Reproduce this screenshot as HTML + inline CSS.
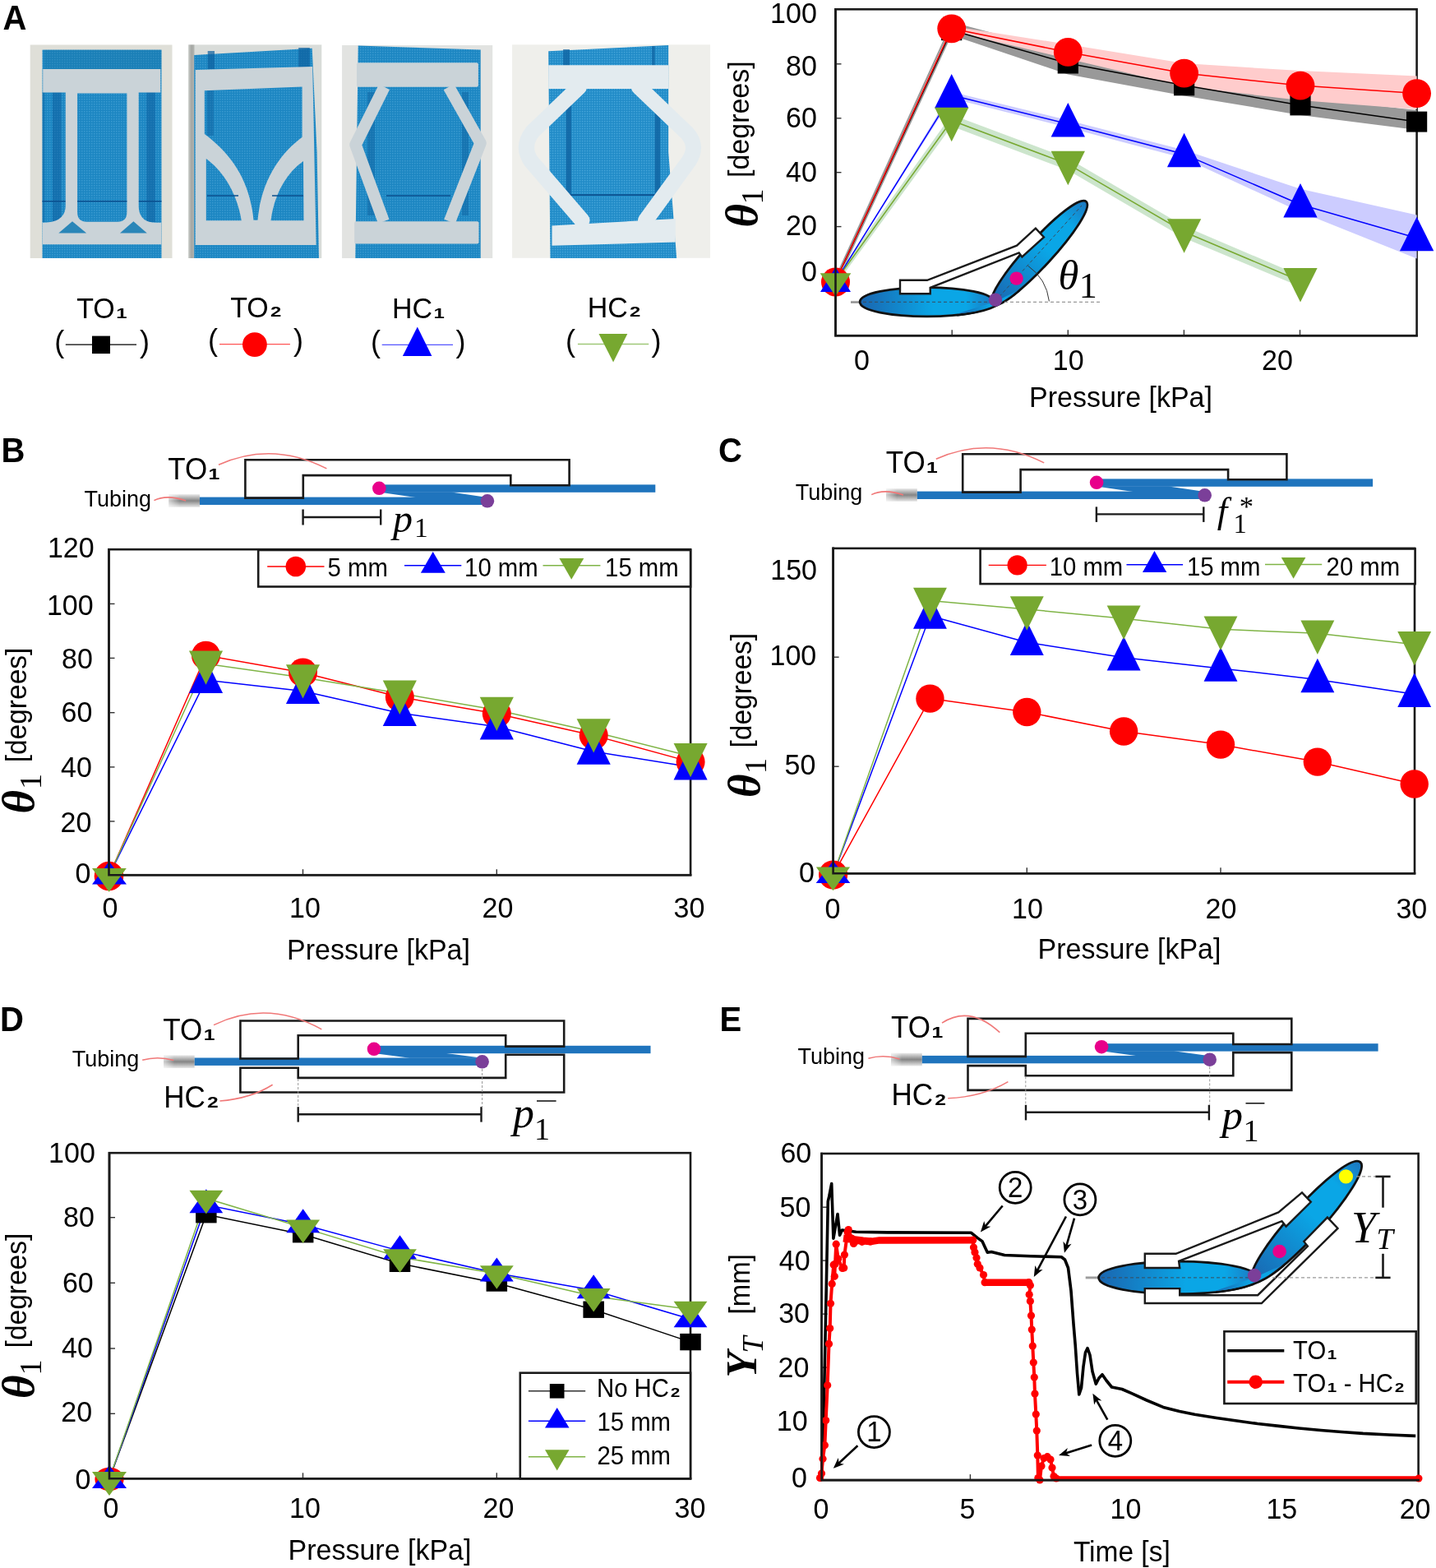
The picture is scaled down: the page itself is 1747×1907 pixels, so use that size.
<!DOCTYPE html>
<html><head><meta charset="utf-8"><title>Figure</title>
<style>html,body{margin:0;padding:0;background:#fff;}svg{display:block;}</style>
</head><body>
<svg xmlns="http://www.w3.org/2000/svg" width="1747" height="1907" viewBox="0 0 1747 1907">
<defs>
<linearGradient id="tubeg" x1="0" y1="0" x2="0" y2="1"><stop offset="0" stop-color="#e8e8e8"/><stop offset="0.5" stop-color="#858585"/><stop offset="1" stop-color="#e8e8e8"/></linearGradient>
<linearGradient id="tubeh" x1="0" y1="0" x2="1" y2="0"><stop offset="0" stop-color="#fff" stop-opacity="0.6"/><stop offset="1" stop-color="#fff" stop-opacity="0"/></linearGradient>
<linearGradient id="ellg" x1="0" y1="0" x2="1" y2="0"><stop offset="0" stop-color="#1a66b0"/><stop offset="0.55" stop-color="#0aa6e6"/><stop offset="0.8" stop-color="#0aa6e6"/><stop offset="1" stop-color="#1c78c0"/></linearGradient>
<linearGradient id="fabric" x1="0" y1="0" x2="1" y2="0"><stop offset="0" stop-color="#1576b5"/><stop offset="0.5" stop-color="#1e8cc6"/><stop offset="1" stop-color="#1576b5"/></linearGradient>
<pattern id="weave" width="3" height="3" patternUnits="userSpaceOnUse"><rect width="3" height="3" fill="#1c86c2"/><rect width="1.5" height="1.5" fill="#3a9ad0"/></pattern>
</defs>
<rect width="1747" height="1907" fill="#ffffff"/>
<text x="0" y="0" transform="translate(3.5,35.8) scale(1,1.04)" font-size="40" text-anchor="start" font-weight="bold" font-style="normal" font-family="'Liberation Sans', Arial, sans-serif" fill="#000" >A</text>
<text x="0" y="0" transform="translate(1.5,561.8) scale(1,1.04)" font-size="40" text-anchor="start" font-weight="bold" font-style="normal" font-family="'Liberation Sans', Arial, sans-serif" fill="#000" >B</text>
<text x="0" y="0" transform="translate(874,561.8) scale(1,1.04)" font-size="40" text-anchor="start" font-weight="bold" font-style="normal" font-family="'Liberation Sans', Arial, sans-serif" fill="#000" >C</text>
<text x="0" y="0" transform="translate(0,1253.6) scale(1,1.04)" font-size="40" text-anchor="start" font-weight="bold" font-style="normal" font-family="'Liberation Sans', Arial, sans-serif" fill="#000" >D</text>
<text x="0" y="0" transform="translate(875.5,1253.6) scale(1,1.04)" font-size="40" text-anchor="start" font-weight="bold" font-style="normal" font-family="'Liberation Sans', Arial, sans-serif" fill="#000" >E</text>
<defs>
<pattern id="weave" width="3" height="3" patternUnits="userSpaceOnUse"><rect width="3" height="3" fill="#1b7fbb"/><rect x="0" y="0" width="1.2" height="1.2" fill="#3d98cc"/><rect x="1.5" y="1.5" width="1.2" height="1.2" fill="#1873ad"/></pattern>
<pattern id="weave4" width="3" height="3" patternUnits="userSpaceOnUse"><rect width="3" height="3" fill="#2590cc"/><rect x="0" y="0" width="1.2" height="1.2" fill="#4aa6d8"/><rect x="1.5" y="1.5" width="1.2" height="1.2" fill="#1f86c0"/></pattern>
<linearGradient id="shadowL" x1="0" y1="0" x2="1" y2="0"><stop offset="0" stop-color="#b8bab6"/><stop offset="0.5" stop-color="#80827e"/><stop offset="1" stop-color="#9a9c98"/></linearGradient>
</defs>
<g>
<rect x="36.7" y="54.5" width="172.8" height="259.5" fill="#dfdfd8" stroke="none" stroke-width="0" />
<rect x="51.5" y="60.6" width="145" height="253.4" fill="url(#weave)" stroke="none" stroke-width="0" />
<rect x="53.8" y="60.6" width="142.5" height="23.5" fill="#17709f" stroke="none" stroke-width="0" opacity="0.3"/>
<rect x="63.9" y="112" width="10.6" height="158" fill="#0d5f9e" stroke="none" stroke-width="0" opacity="0.55"/>
<rect x="178.3" y="112" width="10.5" height="158" fill="#0d5f9e" stroke="none" stroke-width="0" opacity="0.55"/>
<rect x="51.5" y="112" width="3" height="158" fill="#0d5f9e" stroke="none" stroke-width="0" opacity="0.4"/>
<line x1="51.5" y1="244.8" x2="196.5" y2="244.8" stroke="#0b4f8e" stroke-width="1.6" />
<path d="M52.2,83.9 L195.2,83.9 L195.2,112.5 L168.7,112.5 L168.7,250 Q168.7,270.8 190,270.8 L196.3,270.8 L196.3,297.3 L51.7,297.3 L51.7,270.8 Q79.8,270.8 79.8,250 L79.8,112.5 L52.2,112.5 Z" fill="#cad3d8"/>
<path d="M94.1,113.5 L154.4,113.5 L154.4,258 Q154.4,269.7 143,269.7 L105.5,269.7 Q94.1,269.7 94.1,258 Z" fill="url(#weave)"/>
<line x1="94.1" y1="244.8" x2="154.4" y2="244.8" stroke="#0b4f8e" stroke-width="1.6" />
<polygon points="71.3,283.5 88,269.2 105.2,283.5" fill="#2a86b8" />
<polygon points="146,283.5 162.4,269.2 178.8,283.5" fill="#2a86b8" />
</g>
<g>
<rect x="228.9" y="54.4" width="162.4" height="259.6" fill="#d9dcd9" stroke="none" stroke-width="0" />
<rect x="229.5" y="54.4" width="7" height="259.6" fill="url(#shadowL)" stroke="none" stroke-width="0" opacity="0.6"/>
<path d="M236.2,67 L379.7,58.8 L385.6,185 L388,314 L236.2,314 Z" fill="url(#weave)"/>
<rect x="252.7" y="62" width="8.3" height="22" fill="#0d5f9e" stroke="none" stroke-width="0" opacity="0.7"/>
<rect x="363.2" y="58" width="13.6" height="24" fill="#0d5f9e" stroke="none" stroke-width="0" opacity="0.7"/>
<path d="M237.7,85 L380.2,81.1 L384.6,298 L237.7,298.1 Z" fill="#cad3d8"/>
<path d="M248.8,110.3 L367.6,105.5 L367.6,166.8 C342,186 318,218 313.5,267.7 L308.5,267.7 C304,218 280,186 248.8,162.9 Z" fill="url(#weave)"/>
<rect x="252" y="110" width="8" height="55" fill="#0d5f9e" stroke="none" stroke-width="0" opacity="0.45"/>
<path d="M250.8,193 C274,210 289,238 293.7,268.3 L250.8,268.3 Z" fill="url(#weave)"/>
<path d="M369,196 C346,212 333,240 329.5,268.3 L369.5,268.3 Z" fill="url(#weave)"/>
<line x1="252" y1="238" x2="290" y2="238" stroke="#0b4f8e" stroke-width="1.4" />
<line x1="331" y1="238" x2="369" y2="238" stroke="#0b4f8e" stroke-width="1.4" />
</g>
<g>
<rect x="416.1" y="55" width="183.1" height="259" fill="#e2e3e1" stroke="none" stroke-width="0" />
<path d="M435.7,55.6 L584.7,60.6 L584.7,314 L432.3,314 Z" fill="url(#weave)"/>
<rect x="447" y="112" width="9" height="150" fill="#0d5f9e" stroke="none" stroke-width="0" opacity="0.45"/>
<rect x="562" y="112" width="8" height="150" fill="#0d5f9e" stroke="none" stroke-width="0" opacity="0.45"/>
<line x1="470" y1="238" x2="548" y2="238" stroke="#0b4f8e" stroke-width="1.4" />
<path d="M467.5,105.8 L432.5,176 L466.7,269.3 M546,105.8 L584.5,174 L547,269.3" fill="none" stroke="#cad3d8" stroke-width="14.5" stroke-linejoin="round"/>
<rect x="434" y="76.2" width="147.9" height="29.6" fill="#cad3d8" stroke="none" stroke-width="0" rx="2"/>
<rect x="431.2" y="269.3" width="151.3" height="27.3" fill="#cad3d8" stroke="none" stroke-width="0" rx="2"/>
</g>
<g>
<rect x="623.1" y="54.3" width="240.9" height="259.5" fill="#efefeb" stroke="none" stroke-width="0" />
<path d="M667.2,62.2 L813.2,55 L813.2,185 L823.2,314 L669.4,314 Z" fill="url(#weave4)"/>
<rect x="685.1" y="60" width="7.9" height="22" fill="#0d5f9e" stroke="none" stroke-width="0" opacity="0.7"/>
<rect x="793.2" y="56" width="3.5" height="24" fill="#0d5f9e" stroke="none" stroke-width="0" opacity="0.7"/>
<rect x="688.7" y="125" width="6.4" height="112" fill="#0d5f9e" stroke="none" stroke-width="0" opacity="0.75"/>
<rect x="796.7" y="125" width="6.5" height="112" fill="#0d5f9e" stroke="none" stroke-width="0" opacity="0.75"/>
<line x1="690" y1="237.2" x2="803" y2="237.2" stroke="#0b4f8e" stroke-width="1.8" />
<path d="M704.4,106 L648,160 Q634,178 646,196 L708,268 M777.4,106 L836,162 Q850,178 838,196 L785.5,268" fill="none" stroke="#e3ebef" stroke-width="19" stroke-linejoin="round" stroke-linecap="round"/>
<path d="M667.2,79.3 L813.2,79.3 L813.2,108 L667.2,108 Z" fill="#e3ebef"/>
<path d="M671.5,274.4 L821.8,265.9 L821.8,294.5 L671.5,298.8 Z" fill="#e3ebef"/>
</g>
<text x="0" y="0" transform="translate(93.2,387.1) scale(1,1.04)" font-size="34" text-anchor="start" font-weight="normal" font-style="normal" font-family="'Liberation Sans', Arial, sans-serif" fill="#000" >TO<tspan font-size="34" font-weight="bold" dx="1.2" dy="-1.05">₁</tspan></text>
<text x="0" y="0" transform="translate(66.3,427.5) scale(1,1.04)" font-size="36" text-anchor="start" font-weight="normal" font-style="normal" font-family="'Liberation Sans', Arial, sans-serif" fill="#000" >(</text>
<text x="0" y="0" transform="translate(170,427.5) scale(1,1.04)" font-size="36" text-anchor="start" font-weight="normal" font-style="normal" font-family="'Liberation Sans', Arial, sans-serif" fill="#000" >)</text>
<line x1="79.8" y1="419.1" x2="166" y2="419.1" stroke="#000" stroke-width="1.3" />
<rect x="112" y="408.6" width="22" height="21.5" fill="#000" stroke="none" stroke-width="0" />
<text x="0" y="0" transform="translate(280.2,385.5) scale(1,1.04)" font-size="34" text-anchor="start" font-weight="normal" font-style="normal" font-family="'Liberation Sans', Arial, sans-serif" fill="#000" >TO<tspan font-size="34" font-weight="bold" dx="1.2" dy="-1.05">₂</tspan></text>
<text x="0" y="0" transform="translate(252.9,425.5) scale(1,1.04)" font-size="36" text-anchor="start" font-weight="normal" font-style="normal" font-family="'Liberation Sans', Arial, sans-serif" fill="#000" >(</text>
<text x="0" y="0" transform="translate(357,425.5) scale(1,1.04)" font-size="36" text-anchor="start" font-weight="normal" font-style="normal" font-family="'Liberation Sans', Arial, sans-serif" fill="#000" >)</text>
<line x1="267" y1="418.7" x2="352.9" y2="418.7" stroke="#ff5555" stroke-width="1.3" />
<circle cx="309.9" cy="419.1" r="14.9" fill="#ff0000" />
<text x="0" y="0" transform="translate(477,386.6) scale(1,1.04)" font-size="34" text-anchor="start" font-weight="normal" font-style="normal" font-family="'Liberation Sans', Arial, sans-serif" fill="#000" >HC<tspan font-size="34" font-weight="bold" dx="1.2" dy="-1.05">₁</tspan></text>
<text x="0" y="0" transform="translate(451,427.8) scale(1,1.04)" font-size="36" text-anchor="start" font-weight="normal" font-style="normal" font-family="'Liberation Sans', Arial, sans-serif" fill="#000" >(</text>
<text x="0" y="0" transform="translate(554.5,427.8) scale(1,1.04)" font-size="36" text-anchor="start" font-weight="normal" font-style="normal" font-family="'Liberation Sans', Arial, sans-serif" fill="#000" >)</text>
<line x1="464.7" y1="419.4" x2="551" y2="419.4" stroke="#5555ff" stroke-width="1.3" />
<polygon points="507.8,397.6 525.4,432.9 489.9,432.9" fill="#0000ff" />
<text x="0" y="0" transform="translate(714.7,385.5) scale(1,1.04)" font-size="34" text-anchor="start" font-weight="normal" font-style="normal" font-family="'Liberation Sans', Arial, sans-serif" fill="#000" >HC<tspan font-size="34" font-weight="bold" dx="1.2" dy="-1.05">₂</tspan></text>
<text x="0" y="0" transform="translate(688,426.5) scale(1,1.04)" font-size="36" text-anchor="start" font-weight="normal" font-style="normal" font-family="'Liberation Sans', Arial, sans-serif" fill="#000" >(</text>
<text x="0" y="0" transform="translate(792.6,426.5) scale(1,1.04)" font-size="36" text-anchor="start" font-weight="normal" font-style="normal" font-family="'Liberation Sans', Arial, sans-serif" fill="#000" >)</text>
<line x1="702.9" y1="418.5" x2="789.2" y2="418.5" stroke="#a0c878" stroke-width="1.3" />
<polygon points="728.5,406.1 763.3,406.1 746.1,440.4" fill="#77a830" />
<rect x="1016.5" y="11.3" width="707.1" height="396.9" fill="none" stroke="#1a1a1a" stroke-width="2.6" />
<line x1="1016.5" y1="77.8" x2="1023.5" y2="77.8" stroke="#333" stroke-width="1.4" />
<line x1="1016.5" y1="143.8" x2="1023.5" y2="143.8" stroke="#333" stroke-width="1.4" />
<line x1="1016.5" y1="209.7" x2="1023.5" y2="209.7" stroke="#333" stroke-width="1.4" />
<line x1="1016.5" y1="275.6" x2="1023.5" y2="275.6" stroke="#333" stroke-width="1.4" />
<line x1="1016.5" y1="341.6" x2="1023.5" y2="341.6" stroke="#333" stroke-width="1.4" />
<line x1="1158.2" y1="408.2" x2="1158.2" y2="401.2" stroke="#333" stroke-width="1.4" />
<line x1="1299.3" y1="408.2" x2="1299.3" y2="401.2" stroke="#333" stroke-width="1.4" />
<line x1="1440.4" y1="408.2" x2="1440.4" y2="401.2" stroke="#333" stroke-width="1.4" />
<line x1="1581.5" y1="408.2" x2="1581.5" y2="401.2" stroke="#333" stroke-width="1.4" />
<polygon points="1016.5,336 1157.7,26.7 1299.3,64.5 1440.6,95.8 1582,117.9 1723.6,134.1 1723.6,158.1 1582,139.9 1440.6,116.4 1299.3,90.4 1157.7,42.7 1016.5,348" fill="#999999" />
<polygon points="1016.5,342 1157.7,31.8 1299.3,53.9 1440.6,77.1 1582,86.1 1723.6,92.6 1723.6,133.1 1582,122.1 1440.6,105.1 1299.3,71.4 1157.7,37.8 1016.5,342" fill="#ffcccc" />
<polygon points="1016.5,342 1157.7,111.8 1299.3,146.2 1440.6,182.6 1582,229.7 1723.6,261.5 1723.6,314.5 1582,257.7 1440.6,192.6 1299.3,155.2 1157.7,119.8 1016.5,342" fill="#ccccff" />
<polygon points="1016.5,337 1157.7,139.5 1299.3,192.6 1440.6,275 1582,335.3 1582,348.8 1440.6,289.5 1299.3,207.1 1157.7,153.5 1016.5,347" fill="#cce5cc" />
<polyline points="1016.5,342 1157.7,36.7 1299.3,77 1440.6,103.8 1582,127.9 1723.6,148.1" fill="none" stroke="#000" stroke-width="1.5" stroke-linejoin="round" />
<polyline points="1016.5,342 1157.7,34.8 1299.3,63.4 1440.6,89.1 1582,104.1 1723.6,113.6" fill="none" stroke="#ff0000" stroke-width="1.5" stroke-linejoin="round" />
<polyline points="1016.5,342 1157.7,115.8 1299.3,150.7 1440.6,187.6 1582,248.7 1723.6,289.5" fill="none" stroke="#0000ff" stroke-width="1.5" stroke-linejoin="round" />
<polyline points="1016.5,342 1157.7,146.5 1299.3,199.6 1440.6,282 1582,341.8" fill="none" stroke="#77a830" stroke-width="1.5" stroke-linejoin="round" />
<rect x="1145.1" y="24.2" width="25.2" height="25" fill="#000" stroke="none" stroke-width="0" />
<rect x="1286.7" y="64.5" width="25.2" height="25" fill="#000" stroke="none" stroke-width="0" />
<rect x="1428" y="91.3" width="25.2" height="25" fill="#000" stroke="none" stroke-width="0" />
<rect x="1569.4" y="115.4" width="25.2" height="25" fill="#000" stroke="none" stroke-width="0" />
<rect x="1711" y="135.6" width="25.2" height="25" fill="#000" stroke="none" stroke-width="0" />
<circle cx="1157.7" cy="34.8" r="17.4" fill="#ff0000" />
<circle cx="1299.3" cy="63.4" r="17.4" fill="#ff0000" />
<circle cx="1440.6" cy="89.1" r="17.4" fill="#ff0000" />
<circle cx="1582" cy="104.1" r="17.4" fill="#ff0000" />
<circle cx="1723.6" cy="113.6" r="17.4" fill="#ff0000" />
<polygon points="1157.7,90.07 1178.35,131.57 1137.05,131.57" fill="#0000ff" />
<polygon points="1299.3,124.97 1319.95,166.47 1278.65,166.47" fill="#0000ff" />
<polygon points="1440.6,161.87 1461.25,203.37 1419.95,203.37" fill="#0000ff" />
<polygon points="1582,222.97 1602.65,264.47 1561.35,264.47" fill="#0000ff" />
<polygon points="1723.6,263.77 1744.25,305.27 1702.95,305.27" fill="#0000ff" />
<polygon points="1137.05,130.73 1178.35,130.73 1157.7,172.23" fill="#77a830" />
<polygon points="1278.65,183.83 1319.95,183.83 1299.3,225.33" fill="#77a830" />
<polygon points="1419.95,266.23 1461.25,266.23 1440.6,307.73" fill="#77a830" />
<polygon points="1561.35,326.03 1602.65,326.03 1582,367.53" fill="#77a830" />
<circle cx="1016.5" cy="343" r="17.5" fill="#ff0000" />
<polygon points="1016.5,325 1035,355 998,355" fill="#0000ff" />
<polygon points="997.7,332.3 1035.3,332.3 1016.5,360.3" fill="#77a830" />
<polyline points="1016.5,11.3 1016.5,408.2 1723.6,408.2" fill="none" stroke="#1a1a1a" stroke-width="2.6" stroke-linejoin="miter" stroke-linecap="square"/>
<text x="0" y="0" transform="translate(993.8,28.17) scale(1,1.04)" font-size="34" text-anchor="end" font-weight="normal" font-style="normal" font-family="'Liberation Sans', Arial, sans-serif" fill="#000" >100</text>
<text x="0" y="0" transform="translate(993.8,92.47) scale(1,1.04)" font-size="34" text-anchor="end" font-weight="normal" font-style="normal" font-family="'Liberation Sans', Arial, sans-serif" fill="#000" >80</text>
<text x="0" y="0" transform="translate(993.8,154.67) scale(1,1.04)" font-size="34" text-anchor="end" font-weight="normal" font-style="normal" font-family="'Liberation Sans', Arial, sans-serif" fill="#000" >60</text>
<text x="0" y="0" transform="translate(993.8,220.77) scale(1,1.04)" font-size="34" text-anchor="end" font-weight="normal" font-style="normal" font-family="'Liberation Sans', Arial, sans-serif" fill="#000" >40</text>
<text x="0" y="0" transform="translate(993.8,286.37) scale(1,1.04)" font-size="34" text-anchor="end" font-weight="normal" font-style="normal" font-family="'Liberation Sans', Arial, sans-serif" fill="#000" >20</text>
<text x="0" y="0" transform="translate(993.8,341.97) scale(1,1.04)" font-size="34" text-anchor="end" font-weight="normal" font-style="normal" font-family="'Liberation Sans', Arial, sans-serif" fill="#000" >0</text>
<text x="0" y="0" transform="translate(1048.5,450.27) scale(1,1.04)" font-size="34" text-anchor="middle" font-weight="normal" font-style="normal" font-family="'Liberation Sans', Arial, sans-serif" fill="#000" >0</text>
<text x="0" y="0" transform="translate(1299.7,450.27) scale(1,1.04)" font-size="34" text-anchor="middle" font-weight="normal" font-style="normal" font-family="'Liberation Sans', Arial, sans-serif" fill="#000" >10</text>
<text x="0" y="0" transform="translate(1554,450.27) scale(1,1.04)" font-size="34" text-anchor="middle" font-weight="normal" font-style="normal" font-family="'Liberation Sans', Arial, sans-serif" fill="#000" >20</text>
<text x="0" y="0" transform="translate(1363.5,495) scale(1,1.04)" font-size="34" text-anchor="middle" font-weight="normal" font-style="normal" font-family="'Liberation Sans', Arial, sans-serif" fill="#000" >Pressure [kPa]</text>
<text x="0" y="0" transform="translate(921.1,276.5) rotate(-90)" font-size="55" text-anchor="start" font-weight="bold" font-style="italic" font-family="'Liberation Serif', 'DejaVu Serif', serif" fill="#000" >θ</text>
<text x="0" y="0" transform="translate(928.4,248.5) rotate(-90)" font-size="38" text-anchor="start" font-weight="normal" font-style="normal" font-family="'Liberation Serif', 'DejaVu Serif', serif" fill="#000" >1</text>
<text x="0" y="0" transform="translate(910.5,216) rotate(-90) scale(1,1.04)" font-size="34" text-anchor="start" font-weight="normal" font-style="normal" font-family="'Liberation Sans', Arial, sans-serif" fill="#000" >[degrees]</text>
<rect x="132.5" y="668.2" width="707.6" height="396" fill="none" stroke="#1a1a1a" stroke-width="2.6" />
<line x1="132.5" y1="734.4" x2="139.5" y2="734.4" stroke="#333" stroke-width="1.4" />
<line x1="132.5" y1="800.4" x2="139.5" y2="800.4" stroke="#333" stroke-width="1.4" />
<line x1="132.5" y1="866.7" x2="139.5" y2="866.7" stroke="#333" stroke-width="1.4" />
<line x1="132.5" y1="932.9" x2="139.5" y2="932.9" stroke="#333" stroke-width="1.4" />
<line x1="132.5" y1="998.9" x2="139.5" y2="998.9" stroke="#333" stroke-width="1.4" />
<line x1="368.5" y1="1064.2" x2="368.5" y2="1057.2" stroke="#333" stroke-width="1.4" />
<line x1="604.3" y1="1064.2" x2="604.3" y2="1057.2" stroke="#333" stroke-width="1.4" />
<polyline points="132.5,1065.5 250.5,797.2 368.5,818 486.3,847.8 604.3,868 722.2,894.4 840.1,926.6" fill="none" stroke="#ff0000" stroke-width="1.5" stroke-linejoin="round" />
<polyline points="132.5,1065 250.5,827.2 368.5,840.4 486.3,867.3 604.3,883.7 722.2,914 840.1,932.8" fill="none" stroke="#0000ff" stroke-width="1.5" stroke-linejoin="round" />
<polyline points="132.5,1065 250.5,807.2 368.5,824 486.3,843.3 604.3,863.5 722.2,889.9 840.1,919.7" fill="none" stroke="#7fb446" stroke-width="1.5" stroke-linejoin="round" />
<circle cx="132.5" cy="1065.5" r="17.8" fill="#ff0000" />
<polygon points="132.7,1047.8 154,1075.5 112,1075.5" fill="#0000ff" />
<polygon points="112,1056 153.8,1056 132.7,1084.7" fill="#77a830" />
<circle cx="250.5" cy="797.2" r="17.5" fill="#ff0000" />
<circle cx="368.5" cy="818" r="17.5" fill="#ff0000" />
<circle cx="486.3" cy="847.8" r="17.5" fill="#ff0000" />
<circle cx="604.3" cy="868" r="17.5" fill="#ff0000" />
<circle cx="722.2" cy="894.4" r="17.5" fill="#ff0000" />
<circle cx="840.1" cy="926.6" r="17.5" fill="#ff0000" />
<polygon points="250.5,801.59 271.05,842.89 229.95,842.89" fill="#0000ff" />
<polygon points="368.5,814.79 389.05,856.09 347.95,856.09" fill="#0000ff" />
<polygon points="486.3,841.69 506.85,882.99 465.75,882.99" fill="#0000ff" />
<polygon points="604.3,858.09 624.85,899.39 583.75,899.39" fill="#0000ff" />
<polygon points="722.2,888.39 742.75,929.69 701.65,929.69" fill="#0000ff" />
<polygon points="840.1,907.19 860.65,948.49 819.55,948.49" fill="#0000ff" />
<polygon points="229.95,791.51 271.05,791.51 250.5,832.81" fill="#77a830" />
<polygon points="347.95,808.31 389.05,808.31 368.5,849.61" fill="#77a830" />
<polygon points="465.75,827.61 506.85,827.61 486.3,868.91" fill="#77a830" />
<polygon points="583.75,847.81 624.85,847.81 604.3,889.11" fill="#77a830" />
<polygon points="701.65,874.21 742.75,874.21 722.2,915.51" fill="#77a830" />
<polygon points="819.55,904.01 860.65,904.01 840.1,945.31" fill="#77a830" />
<rect x="314.2" y="669" width="525.9" height="44.5" fill="#fff" stroke="#1a1a1a" stroke-width="2.6" />
<line x1="325.2" y1="689" x2="394.5" y2="689" stroke="#ff0000" stroke-width="1.4" />
<circle cx="359.8" cy="689" r="12.3" fill="#ff0000" />
<text x="0" y="0" transform="translate(398.6,701) scale(1,1.04)" font-size="29.3" text-anchor="start" font-weight="normal" font-style="normal" font-family="'Liberation Sans', Arial, sans-serif" fill="#000" >5 mm</text>
<line x1="492" y1="687.7" x2="561.3" y2="687.7" stroke="#0000ff" stroke-width="1.4" />
<polygon points="526.7,671 541.8,696.8 511.9,696.8" fill="#0000ff" />
<text x="0" y="0" transform="translate(565.1,701) scale(1,1.04)" font-size="29.3" text-anchor="start" font-weight="normal" font-style="normal" font-family="'Liberation Sans', Arial, sans-serif" fill="#000" >10 mm</text>
<line x1="660.5" y1="687.7" x2="730.4" y2="687.7" stroke="#7fb446" stroke-width="1.4" />
<polygon points="680.4,678.9 710.3,678.9 695.2,704.7" fill="#77a830" />
<text x="0" y="0" transform="translate(736.1,701) scale(1,1.04)" font-size="29.3" text-anchor="start" font-weight="normal" font-style="normal" font-family="'Liberation Sans', Arial, sans-serif" fill="#000" >15 mm</text>
<polyline points="132.5,668.2 132.5,1064.2 840.1,1064.2" fill="none" stroke="#1a1a1a" stroke-width="2.6" stroke-linejoin="miter" stroke-linecap="square"/>
<text x="0" y="0" transform="translate(114.6,678.17) scale(1,1.04)" font-size="34" text-anchor="end" font-weight="normal" font-style="normal" font-family="'Liberation Sans', Arial, sans-serif" fill="#000" >120</text>
<text x="0" y="0" transform="translate(113.6,747.67) scale(1,1.04)" font-size="34" text-anchor="end" font-weight="normal" font-style="normal" font-family="'Liberation Sans', Arial, sans-serif" fill="#000" >100</text>
<text x="0" y="0" transform="translate(112.9,813.47) scale(1,1.04)" font-size="34" text-anchor="end" font-weight="normal" font-style="normal" font-family="'Liberation Sans', Arial, sans-serif" fill="#000" >80</text>
<text x="0" y="0" transform="translate(112.3,878.17) scale(1,1.04)" font-size="34" text-anchor="end" font-weight="normal" font-style="normal" font-family="'Liberation Sans', Arial, sans-serif" fill="#000" >60</text>
<text x="0" y="0" transform="translate(111.9,944.97) scale(1,1.04)" font-size="34" text-anchor="end" font-weight="normal" font-style="normal" font-family="'Liberation Sans', Arial, sans-serif" fill="#000" >40</text>
<text x="0" y="0" transform="translate(111.3,1011.57) scale(1,1.04)" font-size="34" text-anchor="end" font-weight="normal" font-style="normal" font-family="'Liberation Sans', Arial, sans-serif" fill="#000" >20</text>
<text x="0" y="0" transform="translate(110.5,1073.97) scale(1,1.04)" font-size="34" text-anchor="end" font-weight="normal" font-style="normal" font-family="'Liberation Sans', Arial, sans-serif" fill="#000" >0</text>
<text x="0" y="0" transform="translate(134,1115.97) scale(1,1.04)" font-size="34" text-anchor="middle" font-weight="normal" font-style="normal" font-family="'Liberation Sans', Arial, sans-serif" fill="#000" >0</text>
<text x="0" y="0" transform="translate(371,1115.97) scale(1,1.04)" font-size="34" text-anchor="middle" font-weight="normal" font-style="normal" font-family="'Liberation Sans', Arial, sans-serif" fill="#000" >10</text>
<text x="0" y="0" transform="translate(605.5,1115.97) scale(1,1.04)" font-size="34" text-anchor="middle" font-weight="normal" font-style="normal" font-family="'Liberation Sans', Arial, sans-serif" fill="#000" >20</text>
<text x="0" y="0" transform="translate(838.5,1115.97) scale(1,1.04)" font-size="34" text-anchor="middle" font-weight="normal" font-style="normal" font-family="'Liberation Sans', Arial, sans-serif" fill="#000" >30</text>
<text x="0" y="0" transform="translate(460.5,1167) scale(1,1.04)" font-size="34" text-anchor="middle" font-weight="normal" font-style="normal" font-family="'Liberation Sans', Arial, sans-serif" fill="#000" >Pressure [kPa]</text>
<text x="0" y="0" transform="translate(41,989.5) rotate(-90)" font-size="55" text-anchor="start" font-weight="bold" font-style="italic" font-family="'Liberation Serif', 'DejaVu Serif', serif" fill="#000" >θ</text>
<text x="0" y="0" transform="translate(49.5,960) rotate(-90)" font-size="38" text-anchor="start" font-weight="normal" font-style="normal" font-family="'Liberation Serif', 'DejaVu Serif', serif" fill="#000" >1</text>
<text x="0" y="0" transform="translate(31.5,927.3) rotate(-90) scale(1,1.04)" font-size="33.5" text-anchor="start" font-weight="normal" font-style="normal" font-family="'Liberation Sans', Arial, sans-serif" fill="#000" >[degrees]</text>
<rect x="1013.6" y="666.9" width="707.4" height="395.4" fill="none" stroke="#1a1a1a" stroke-width="2.6" />
<line x1="1013.6" y1="799.2" x2="1020.6" y2="799.2" stroke="#333" stroke-width="1.4" />
<line x1="1013.6" y1="932.2" x2="1020.6" y2="932.2" stroke="#333" stroke-width="1.4" />
<line x1="1249.3" y1="1062.3" x2="1249.3" y2="1055.3" stroke="#333" stroke-width="1.4" />
<line x1="1485" y1="1062.3" x2="1485" y2="1055.3" stroke="#333" stroke-width="1.4" />
<polyline points="1013.6,1064 1131.45,849.6 1249.3,866 1367.15,889.5 1485,905.6 1602.85,926.6 1720.7,953.5" fill="none" stroke="#ff0000" stroke-width="1.5" stroke-linejoin="round" />
<polyline points="1013.6,1064 1131.45,749 1249.3,781.2 1367.15,799.8 1485,812.9 1602.85,826.4 1720.7,844.3" fill="none" stroke="#0000ff" stroke-width="1.5" stroke-linejoin="round" />
<polyline points="1013.6,1064 1131.45,730.5 1249.3,740.9 1367.15,752.2 1485,765.2 1602.85,770.3 1720.7,783.7" fill="none" stroke="#7fb446" stroke-width="1.5" stroke-linejoin="round" />
<circle cx="1013.6" cy="1064" r="17.6" fill="#ff0000" />
<polygon points="1013.6,1046.9 1034.3,1074.1 992.7,1074.1" fill="#0000ff" />
<polygon points="992.9,1054.6 1034.1,1054.6 1013.5,1083.3" fill="#77a830" />
<circle cx="1131.45" cy="849.6" r="17.2" fill="#ff0000" />
<circle cx="1249.3" cy="866" r="17.2" fill="#ff0000" />
<circle cx="1367.15" cy="889.5" r="17.2" fill="#ff0000" />
<circle cx="1485" cy="905.6" r="17.2" fill="#ff0000" />
<circle cx="1602.85" cy="926.6" r="17.2" fill="#ff0000" />
<circle cx="1720.7" cy="953.5" r="17.2" fill="#ff0000" />
<polygon points="1131.45,723.27 1151.9,764.77 1111,764.77" fill="#0000ff" />
<polygon points="1249.3,755.47 1269.75,796.97 1228.85,796.97" fill="#0000ff" />
<polygon points="1367.15,774.07 1387.6,815.57 1346.7,815.57" fill="#0000ff" />
<polygon points="1485,787.17 1505.45,828.67 1464.55,828.67" fill="#0000ff" />
<polygon points="1602.85,800.67 1623.3,842.17 1582.4,842.17" fill="#0000ff" />
<polygon points="1720.7,818.57 1741.15,860.07 1700.25,860.07" fill="#0000ff" />
<polygon points="1111,714.73 1151.9,714.73 1131.45,756.23" fill="#77a830" />
<polygon points="1228.85,725.13 1269.75,725.13 1249.3,766.63" fill="#77a830" />
<polygon points="1346.7,736.43 1387.6,736.43 1367.15,777.93" fill="#77a830" />
<polygon points="1464.55,749.43 1505.45,749.43 1485,790.93" fill="#77a830" />
<polygon points="1582.4,754.53 1623.3,754.53 1602.85,796.03" fill="#77a830" />
<polygon points="1700.25,767.93 1741.15,767.93 1720.7,809.43" fill="#77a830" />
<rect x="1192.6" y="667.5" width="529" height="42.6" fill="#fff" stroke="#1a1a1a" stroke-width="2.6" />
<line x1="1202.7" y1="687.4" x2="1272.9" y2="687.4" stroke="#ff0000" stroke-width="1.4" />
<circle cx="1237.6" cy="687.4" r="12.1" fill="#ff0000" />
<text x="0" y="0" transform="translate(1276.7,700) scale(1,1.04)" font-size="29.3" text-anchor="start" font-weight="normal" font-style="normal" font-family="'Liberation Sans', Arial, sans-serif" fill="#000" >10 mm</text>
<line x1="1370.5" y1="686.8" x2="1439.1" y2="686.8" stroke="#0000ff" stroke-width="1.4" />
<polygon points="1404.5,670.1 1419.3,695.9 1390,695.9" fill="#0000ff" />
<text x="0" y="0" transform="translate(1443.9,700) scale(1,1.04)" font-size="29.3" text-anchor="start" font-weight="normal" font-style="normal" font-family="'Liberation Sans', Arial, sans-serif" fill="#000" >15 mm</text>
<line x1="1539" y1="686.5" x2="1608.2" y2="686.5" stroke="#7fb446" stroke-width="1.4" />
<polygon points="1558.8,678 1588.4,678 1573.6,703.8" fill="#77a830" />
<text x="0" y="0" transform="translate(1613.6,700) scale(1,1.04)" font-size="29.3" text-anchor="start" font-weight="normal" font-style="normal" font-family="'Liberation Sans', Arial, sans-serif" fill="#000" >20 mm</text>
<polyline points="1013.6,666.9 1013.6,1062.3 1721,1062.3" fill="none" stroke="#1a1a1a" stroke-width="2.6" stroke-linejoin="miter" stroke-linecap="square"/>
<text x="0" y="0" transform="translate(994,704.97) scale(1,1.04)" font-size="34" text-anchor="end" font-weight="normal" font-style="normal" font-family="'Liberation Sans', Arial, sans-serif" fill="#000" >150</text>
<text x="0" y="0" transform="translate(993.2,809.17) scale(1,1.04)" font-size="34" text-anchor="end" font-weight="normal" font-style="normal" font-family="'Liberation Sans', Arial, sans-serif" fill="#000" >100</text>
<text x="0" y="0" transform="translate(992.4,941.97) scale(1,1.04)" font-size="34" text-anchor="end" font-weight="normal" font-style="normal" font-family="'Liberation Sans', Arial, sans-serif" fill="#000" >50</text>
<text x="0" y="0" transform="translate(991,1073.47) scale(1,1.04)" font-size="34" text-anchor="end" font-weight="normal" font-style="normal" font-family="'Liberation Sans', Arial, sans-serif" fill="#000" >0</text>
<text x="0" y="0" transform="translate(1013,1117.37) scale(1,1.04)" font-size="34" text-anchor="middle" font-weight="normal" font-style="normal" font-family="'Liberation Sans', Arial, sans-serif" fill="#000" >0</text>
<text x="0" y="0" transform="translate(1250,1117.37) scale(1,1.04)" font-size="34" text-anchor="middle" font-weight="normal" font-style="normal" font-family="'Liberation Sans', Arial, sans-serif" fill="#000" >10</text>
<text x="0" y="0" transform="translate(1485.5,1117.37) scale(1,1.04)" font-size="34" text-anchor="middle" font-weight="normal" font-style="normal" font-family="'Liberation Sans', Arial, sans-serif" fill="#000" >20</text>
<text x="0" y="0" transform="translate(1717.3,1117.37) scale(1,1.04)" font-size="34" text-anchor="middle" font-weight="normal" font-style="normal" font-family="'Liberation Sans', Arial, sans-serif" fill="#000" >30</text>
<text x="0" y="0" transform="translate(1374,1166) scale(1,1.04)" font-size="34" text-anchor="middle" font-weight="normal" font-style="normal" font-family="'Liberation Sans', Arial, sans-serif" fill="#000" >Pressure [kPa]</text>
<text x="0" y="0" transform="translate(923.5,970) rotate(-90)" font-size="55" text-anchor="start" font-weight="bold" font-style="italic" font-family="'Liberation Serif', 'DejaVu Serif', serif" fill="#000" >θ</text>
<text x="0" y="0" transform="translate(931.7,941) rotate(-90)" font-size="38" text-anchor="start" font-weight="normal" font-style="normal" font-family="'Liberation Serif', 'DejaVu Serif', serif" fill="#000" >1</text>
<text x="0" y="0" transform="translate(913.5,909.5) rotate(-90) scale(1,1.04)" font-size="33.5" text-anchor="start" font-weight="normal" font-style="normal" font-family="'Liberation Sans', Arial, sans-serif" fill="#000" >[degrees]</text>
<rect x="133" y="1402.2" width="707" height="396.1" fill="none" stroke="#1a1a1a" stroke-width="2.6" />
<line x1="133" y1="1480.7" x2="140" y2="1480.7" stroke="#333" stroke-width="1.4" />
<line x1="133" y1="1560.3" x2="140" y2="1560.3" stroke="#333" stroke-width="1.4" />
<line x1="133" y1="1640" x2="140" y2="1640" stroke="#333" stroke-width="1.4" />
<line x1="133" y1="1719.3" x2="140" y2="1719.3" stroke="#333" stroke-width="1.4" />
<line x1="368.5" y1="1798.3" x2="368.5" y2="1791.3" stroke="#333" stroke-width="1.4" />
<line x1="604.3" y1="1798.3" x2="604.3" y2="1791.3" stroke="#333" stroke-width="1.4" />
<polyline points="133,1799 250.83,1477.2 368.67,1501.2 486.5,1536.8 604.33,1560.5 722.17,1592.7 840,1632.1" fill="none" stroke="#000" stroke-width="1.5" stroke-linejoin="round" />
<polyline points="133,1799 250.83,1465.4 368.67,1489.3 486.5,1521.4 604.33,1548.6 722.17,1569.3 840,1604.3" fill="none" stroke="#0000ff" stroke-width="1.5" stroke-linejoin="round" />
<polyline points="133,1799 250.83,1457.4 368.67,1493.1 486.5,1529 604.33,1548.9 722.17,1576.6 840,1592.5" fill="none" stroke="#7fb446" stroke-width="1.5" stroke-linejoin="round" />
<ellipse cx="133" cy="1798.9" rx="17.6" ry="14.2" fill="#ff0000"/>
<polygon points="133,1782 154,1810 112,1810" fill="#0000ff" />
<polygon points="112,1790 154,1790 133,1819" fill="#77a830" />
<rect x="238.08" y="1467" width="25.5" height="20.4" fill="#000" stroke="none" stroke-width="0" />
<rect x="355.92" y="1491" width="25.5" height="20.4" fill="#000" stroke="none" stroke-width="0" />
<rect x="473.75" y="1526.6" width="25.5" height="20.4" fill="#000" stroke="none" stroke-width="0" />
<rect x="591.58" y="1550.3" width="25.5" height="20.4" fill="#000" stroke="none" stroke-width="0" />
<rect x="709.42" y="1582.5" width="25.5" height="20.4" fill="#000" stroke="none" stroke-width="0" />
<rect x="827.25" y="1621.9" width="25.5" height="20.4" fill="#000" stroke="none" stroke-width="0" />
<polygon points="250.83,1446.26 271.23,1475.26 230.43,1475.26" fill="#0000ff" />
<polygon points="368.67,1470.16 389.07,1499.16 348.27,1499.16" fill="#0000ff" />
<polygon points="486.5,1502.26 506.9,1531.26 466.1,1531.26" fill="#0000ff" />
<polygon points="604.33,1529.46 624.73,1558.46 583.93,1558.46" fill="#0000ff" />
<polygon points="722.17,1550.16 742.57,1579.16 701.77,1579.16" fill="#0000ff" />
<polygon points="840,1585.16 860.4,1614.16 819.6,1614.16" fill="#0000ff" />
<polygon points="230.43,1447.71 271.23,1447.71 250.83,1476.21" fill="#77a830" />
<polygon points="348.27,1483.41 389.07,1483.41 368.67,1511.91" fill="#77a830" />
<polygon points="466.1,1519.31 506.9,1519.31 486.5,1547.81" fill="#77a830" />
<polygon points="583.93,1539.21 624.73,1539.21 604.33,1567.71" fill="#77a830" />
<polygon points="701.77,1566.91 742.57,1566.91 722.17,1595.41" fill="#77a830" />
<polygon points="819.6,1582.81 860.4,1582.81 840,1611.31" fill="#77a830" />
<rect x="632.8" y="1669.7" width="207.2" height="128.6" fill="#fff" stroke="#1a1a1a" stroke-width="2.6" />
<line x1="642.9" y1="1691.8" x2="712.2" y2="1691.8" stroke="#333" stroke-width="1.4" />
<rect x="668.8" y="1683" width="17.7" height="17.6" fill="#000" stroke="none" stroke-width="0" />
<text x="0" y="0" transform="translate(726,1699.4) scale(1,1.04)" font-size="29.3" text-anchor="start" font-weight="normal" font-style="normal" font-family="'Liberation Sans', Arial, sans-serif" fill="#000" >No HC<tspan font-size="29.3" font-weight="bold" dx="1.2" dy="-0.91">₂</tspan></text>
<line x1="642.9" y1="1728.3" x2="712.2" y2="1728.3" stroke="#0000ff" stroke-width="1.4" />
<polygon points="677.7,1712 692.5,1736.4 663,1736.4" fill="#0000ff" />
<text x="0" y="0" transform="translate(726.5,1739.5) scale(1,1.04)" font-size="29.3" text-anchor="start" font-weight="normal" font-style="normal" font-family="'Liberation Sans', Arial, sans-serif" fill="#000" >15 mm</text>
<line x1="642.9" y1="1771.7" x2="712.2" y2="1771.7" stroke="#7fb446" stroke-width="1.4" />
<polygon points="663,1763.3 692.5,1763.3 677.7,1788.5" fill="#77a830" />
<text x="0" y="0" transform="translate(726.5,1780.7) scale(1,1.04)" font-size="29.3" text-anchor="start" font-weight="normal" font-style="normal" font-family="'Liberation Sans', Arial, sans-serif" fill="#000" >25 mm</text>
<polyline points="133,1402.2 133,1798.3 840,1798.3" fill="none" stroke="#1a1a1a" stroke-width="2.6" stroke-linejoin="miter" stroke-linecap="square"/>
<text x="0" y="0" transform="translate(115.8,1414.47) scale(1,1.04)" font-size="34" text-anchor="end" font-weight="normal" font-style="normal" font-family="'Liberation Sans', Arial, sans-serif" fill="#000" >100</text>
<text x="0" y="0" transform="translate(114.8,1492.17) scale(1,1.04)" font-size="34" text-anchor="end" font-weight="normal" font-style="normal" font-family="'Liberation Sans', Arial, sans-serif" fill="#000" >80</text>
<text x="0" y="0" transform="translate(113.7,1571.67) scale(1,1.04)" font-size="34" text-anchor="end" font-weight="normal" font-style="normal" font-family="'Liberation Sans', Arial, sans-serif" fill="#000" >60</text>
<text x="0" y="0" transform="translate(112.9,1651.07) scale(1,1.04)" font-size="34" text-anchor="end" font-weight="normal" font-style="normal" font-family="'Liberation Sans', Arial, sans-serif" fill="#000" >40</text>
<text x="0" y="0" transform="translate(112.1,1729.27) scale(1,1.04)" font-size="34" text-anchor="end" font-weight="normal" font-style="normal" font-family="'Liberation Sans', Arial, sans-serif" fill="#000" >20</text>
<text x="0" y="0" transform="translate(110.5,1811.47) scale(1,1.04)" font-size="34" text-anchor="end" font-weight="normal" font-style="normal" font-family="'Liberation Sans', Arial, sans-serif" fill="#000" >0</text>
<text x="0" y="0" transform="translate(135,1846.37) scale(1,1.04)" font-size="34" text-anchor="middle" font-weight="normal" font-style="normal" font-family="'Liberation Sans', Arial, sans-serif" fill="#000" >0</text>
<text x="0" y="0" transform="translate(371,1846.37) scale(1,1.04)" font-size="34" text-anchor="middle" font-weight="normal" font-style="normal" font-family="'Liberation Sans', Arial, sans-serif" fill="#000" >10</text>
<text x="0" y="0" transform="translate(606.5,1846.37) scale(1,1.04)" font-size="34" text-anchor="middle" font-weight="normal" font-style="normal" font-family="'Liberation Sans', Arial, sans-serif" fill="#000" >20</text>
<text x="0" y="0" transform="translate(839.5,1846.37) scale(1,1.04)" font-size="34" text-anchor="middle" font-weight="normal" font-style="normal" font-family="'Liberation Sans', Arial, sans-serif" fill="#000" >30</text>
<text x="0" y="0" transform="translate(462,1897) scale(1,1.04)" font-size="34" text-anchor="middle" font-weight="normal" font-style="normal" font-family="'Liberation Sans', Arial, sans-serif" fill="#000" >Pressure [kPa]</text>
<text x="0" y="0" transform="translate(41,1701) rotate(-90)" font-size="55" text-anchor="start" font-weight="bold" font-style="italic" font-family="'Liberation Serif', 'DejaVu Serif', serif" fill="#000" >θ</text>
<text x="0" y="0" transform="translate(49.5,1672.5) rotate(-90)" font-size="38" text-anchor="start" font-weight="normal" font-style="normal" font-family="'Liberation Serif', 'DejaVu Serif', serif" fill="#000" >1</text>
<text x="0" y="0" transform="translate(31.5,1639.4) rotate(-90) scale(1,1.04)" font-size="33.5" text-anchor="start" font-weight="normal" font-style="normal" font-family="'Liberation Sans', Arial, sans-serif" fill="#000" >[degrees]</text>
<rect x="999.6" y="1403" width="726" height="397.1" fill="none" stroke="#1a1a1a" stroke-width="2.6" />
<line x1="999.6" y1="1468.2" x2="1006.6" y2="1468.2" stroke="#333" stroke-width="1.4" />
<line x1="999.6" y1="1533.1" x2="1006.6" y2="1533.1" stroke="#333" stroke-width="1.4" />
<line x1="999.6" y1="1598.1" x2="1006.6" y2="1598.1" stroke="#333" stroke-width="1.4" />
<line x1="999.6" y1="1663.1" x2="1006.6" y2="1663.1" stroke="#333" stroke-width="1.4" />
<line x1="1180.4" y1="1800.1" x2="1180.4" y2="1793.1" stroke="#333" stroke-width="1.4" />
<polyline points="999.8,1797.5 1002.5,1700 1005.4,1560 1007.3,1461.1 1008.7,1455.2 1011.7,1439.5 1013.9,1506.3 1019,1476.5 1021.6,1502.2 1024.5,1496 1041.4,1498.2 1080,1498.9 1181.3,1499.2 1189.3,1505.6 1194.9,1509.6 1201.3,1523.3 1206.1,1522.5 1222.1,1526.5 1254.2,1527.7 1291.3,1528.8 1295.5,1532 1299.5,1542 1303,1570 1306,1610 1308.2,1636 1310.5,1670 1312.8,1696 1315.5,1688 1318,1662 1320.5,1645 1323,1639.7 1326,1648 1329,1668 1333.3,1683.2 1337,1676 1341,1671.7 1346,1679 1352.5,1687 1365,1689.5 1376.8,1694.7 1395,1703 1415.1,1711.4 1435,1716.5 1453.5,1720.3 1480,1724.5 1504.7,1728 1530,1731.5 1555.9,1734.4 1580,1737 1607,1739.5 1632,1741.5 1658.2,1743.4 1690,1745 1722.2,1746.4" fill="none" stroke="#000" stroke-width="3.6" stroke-linejoin="round" />
<polyline points="997.5,1797.5 999.5,1792 1001,1774.2 1003.4,1757.8 1004.7,1727.6 1006.7,1684.8 1008.5,1634.4 1009.7,1615.5 1010.5,1585.3 1012.2,1561.4 1014.2,1538.2 1015.3,1552.2 1016,1537.4 1017.2,1513.2 1019.8,1531.1 1024.8,1542.5 1026.7,1541.9 1027.4,1526.1 1031.1,1498.4 1032.2,1495.6 1036.2,1506 1038.5,1512.5 1048.7,1510.3 1059,1510 1070,1508.4 1183.7,1508.2 1184.5,1517 1186,1523 1188,1529.7 1189.3,1537.3 1192,1542 1196.5,1550.5 1198.1,1559.7 1251.8,1559.7 1253.4,1563.3 1252.2,1574.6 1253.4,1582.6 1254.5,1600 1255.3,1617 1256.3,1637 1257.3,1657 1258.3,1675 1259,1695 1260.3,1720 1261.3,1740 1262.3,1770 1262.9,1797.5 1265,1800 1267,1783 1270,1773.5 1274.2,1771.7 1278,1775 1280,1785 1282,1795.5 1285,1798 1726,1798" fill="none" stroke="#ff0000" stroke-width="4" stroke-linejoin="round" />
<polyline points="1059,1510 1070,1508.4 1183.7,1508.2" fill="none" stroke="#ff0000" stroke-width="8.5" stroke-linejoin="round" />
<polyline points="1198.1,1559.7 1251.8,1559.7" fill="none" stroke="#ff0000" stroke-width="8.5" stroke-linejoin="round" />
<polyline points="1285,1798 1726,1798" fill="none" stroke="#ff0000" stroke-width="5.5" stroke-linejoin="round" />
<polyline points="1026,1506 1050,1509 1060,1510" fill="none" stroke="#ff0000" stroke-width="9" stroke-linejoin="round" />
<circle cx="997.5" cy="1797.5" r="4.6" fill="#ff0000" />
<circle cx="999.5" cy="1792" r="4.6" fill="#ff0000" />
<circle cx="1001" cy="1774.2" r="4.6" fill="#ff0000" />
<circle cx="1003.4" cy="1757.8" r="4.6" fill="#ff0000" />
<circle cx="1004.7" cy="1727.6" r="4.6" fill="#ff0000" />
<circle cx="1006.7" cy="1684.8" r="4.6" fill="#ff0000" />
<circle cx="1008.5" cy="1634.4" r="4.6" fill="#ff0000" />
<circle cx="1009.7" cy="1615.5" r="4.6" fill="#ff0000" />
<circle cx="1010.5" cy="1585.3" r="4.6" fill="#ff0000" />
<circle cx="1012.2" cy="1561.4" r="4.6" fill="#ff0000" />
<circle cx="1014.2" cy="1538.2" r="4.6" fill="#ff0000" />
<circle cx="1015.3" cy="1552.2" r="4.6" fill="#ff0000" />
<circle cx="1016" cy="1537.4" r="4.6" fill="#ff0000" />
<circle cx="1017.2" cy="1513.2" r="4.6" fill="#ff0000" />
<circle cx="1019.8" cy="1531.1" r="4.6" fill="#ff0000" />
<circle cx="1024.8" cy="1542.5" r="4.6" fill="#ff0000" />
<circle cx="1026.7" cy="1541.9" r="4.6" fill="#ff0000" />
<circle cx="1027.4" cy="1526.1" r="4.6" fill="#ff0000" />
<circle cx="1031.1" cy="1498.4" r="4.6" fill="#ff0000" />
<circle cx="1032.2" cy="1495.6" r="4.6" fill="#ff0000" />
<circle cx="1036.2" cy="1506" r="4.6" fill="#ff0000" />
<circle cx="1038.5" cy="1512.5" r="4.6" fill="#ff0000" />
<circle cx="1048.7" cy="1510.3" r="4.6" fill="#ff0000" />
<circle cx="1059" cy="1510" r="4.6" fill="#ff0000" />
<circle cx="1183.7" cy="1508.2" r="4.6" fill="#ff0000" />
<circle cx="1184.5" cy="1517" r="4.6" fill="#ff0000" />
<circle cx="1186" cy="1523" r="4.6" fill="#ff0000" />
<circle cx="1188" cy="1529.7" r="4.6" fill="#ff0000" />
<circle cx="1189.3" cy="1537.3" r="4.6" fill="#ff0000" />
<circle cx="1192" cy="1542" r="4.6" fill="#ff0000" />
<circle cx="1196.5" cy="1550.5" r="4.6" fill="#ff0000" />
<circle cx="1198.1" cy="1559.7" r="4.6" fill="#ff0000" />
<circle cx="1251.8" cy="1559.7" r="4.6" fill="#ff0000" />
<circle cx="1253.4" cy="1563.3" r="4.6" fill="#ff0000" />
<circle cx="1252.2" cy="1574.6" r="4.6" fill="#ff0000" />
<circle cx="1253.4" cy="1582.6" r="4.6" fill="#ff0000" />
<circle cx="1254.5" cy="1600" r="4.6" fill="#ff0000" />
<circle cx="1255.3" cy="1617" r="4.6" fill="#ff0000" />
<circle cx="1256.3" cy="1637" r="4.6" fill="#ff0000" />
<circle cx="1257.3" cy="1657" r="4.6" fill="#ff0000" />
<circle cx="1258.3" cy="1675" r="4.6" fill="#ff0000" />
<circle cx="1259" cy="1695" r="4.6" fill="#ff0000" />
<circle cx="1260.3" cy="1720" r="4.6" fill="#ff0000" />
<circle cx="1261.3" cy="1740" r="4.6" fill="#ff0000" />
<circle cx="1262.3" cy="1770" r="4.6" fill="#ff0000" />
<circle cx="1262.9" cy="1797.5" r="4.6" fill="#ff0000" />
<circle cx="1265" cy="1800" r="4.6" fill="#ff0000" />
<circle cx="1267" cy="1783" r="4.6" fill="#ff0000" />
<circle cx="1270" cy="1773.5" r="4.6" fill="#ff0000" />
<circle cx="1274.2" cy="1771.7" r="4.6" fill="#ff0000" />
<circle cx="1278" cy="1775" r="4.6" fill="#ff0000" />
<circle cx="1280" cy="1785" r="4.6" fill="#ff0000" />
<circle cx="1282" cy="1795.5" r="4.6" fill="#ff0000" />
<circle cx="1285" cy="1798" r="4.6" fill="#ff0000" />
<circle cx="1726" cy="1798" r="4.5" fill="#ff0000" />
<polyline points="999.6,1403 999.6,1800.1 1725.6,1800.1" fill="none" stroke="#1a1a1a" stroke-width="2.6" stroke-linejoin="miter" stroke-linecap="square"/>
<circle cx="1063.4" cy="1741.6" r="19" fill="none" stroke="#000" stroke-width="2.8"/>
<text x="0" y="0" transform="translate(1063.4,1753.4) scale(1,1.04)" font-size="33" text-anchor="middle" font-weight="normal" font-style="normal" font-family="'Liberation Sans', Arial, sans-serif" fill="#000" >1</text>
<line x1="1043.4" y1="1758.3" x2="1019.51" y2="1780.49" stroke="#000" stroke-width="2.6" />
<polygon points="1013.8,1785.8 1019.75,1773.11 1020.66,1779.43 1026.9,1780.8" fill="#000" />
<circle cx="1235.2" cy="1444.3" r="19" fill="none" stroke="#000" stroke-width="2.8"/>
<text x="0" y="0" transform="translate(1235.2,1456.1) scale(1,1.04)" font-size="33" text-anchor="middle" font-weight="normal" font-style="normal" font-family="'Liberation Sans', Arial, sans-serif" fill="#000" >2</text>
<line x1="1219.7" y1="1466.5" x2="1197.92" y2="1492.43" stroke="#000" stroke-width="2.6" />
<polygon points="1192.9,1498.4 1197.24,1485.07 1198.92,1491.23 1205.28,1491.82" fill="#000" />
<circle cx="1313.9" cy="1458.9" r="19" fill="none" stroke="#000" stroke-width="2.8"/>
<text x="0" y="0" transform="translate(1313.9,1470.7) scale(1,1.04)" font-size="33" text-anchor="middle" font-weight="normal" font-style="normal" font-family="'Liberation Sans', Arial, sans-serif" fill="#000" >3</text>
<line x1="1296.9" y1="1479.5" x2="1261.47" y2="1546.02" stroke="#000" stroke-width="2.6" />
<polygon points="1257.8,1552.9 1259.28,1538.96 1262.2,1544.64 1268.55,1543.89" fill="#000" />
<line x1="1307" y1="1481.6" x2="1297.05" y2="1516.3" stroke="#000" stroke-width="2.6" />
<polygon points="1294.9,1523.8 1293.44,1509.86 1297.48,1514.8 1303.53,1512.75" fill="#000" />
<circle cx="1356.8" cy="1752.3" r="19" fill="none" stroke="#000" stroke-width="2.8"/>
<text x="0" y="0" transform="translate(1356.8,1764.1) scale(1,1.04)" font-size="33" text-anchor="middle" font-weight="normal" font-style="normal" font-family="'Liberation Sans', Arial, sans-serif" fill="#000" >4</text>
<line x1="1347.3" y1="1726.7" x2="1333.21" y2="1701.51" stroke="#000" stroke-width="2.6" />
<polygon points="1329.4,1694.7 1340.33,1703.48 1333.97,1702.87 1331.16,1708.61" fill="#000" />
<line x1="1328.1" y1="1757.4" x2="1295.44" y2="1767.66" stroke="#000" stroke-width="2.6" />
<polygon points="1288,1770 1298.83,1761.09 1296.93,1767.19 1301.98,1771.11" fill="#000" />
<rect x="1489.4" y="1619.3" width="233.3" height="87.7" fill="#fff" stroke="#1a1a1a" stroke-width="2.6" />
<line x1="1493.2" y1="1642.8" x2="1562.3" y2="1642.8" stroke="#000" stroke-width="3.6" />
<text x="0" y="0" transform="translate(1573.1,1652.5) scale(1,1.04)" font-size="29.3" text-anchor="start" font-weight="normal" font-style="normal" font-family="'Liberation Sans', Arial, sans-serif" fill="#000" >TO<tspan font-size="29.3" font-weight="bold" dx="1.2" dy="-0.91">₁</tspan></text>
<line x1="1493.2" y1="1680.7" x2="1562.3" y2="1680.7" stroke="#ff0000" stroke-width="4" />
<circle cx="1527.7" cy="1680.7" r="8.3" fill="#ff0000" />
<text x="0" y="0" transform="translate(1573.1,1692.7) scale(1,1.04)" font-size="29.3" text-anchor="start" font-weight="normal" font-style="normal" font-family="'Liberation Sans', Arial, sans-serif" fill="#000" >TO<tspan font-size="29.3" font-weight="bold" dx="1.2" dy="-0.91">₁</tspan><tspan dy="0.91"> - HC</tspan><tspan font-size="29.3" font-weight="bold" dx="1.2" dy="-0.91">₂</tspan></text>
<text x="0" y="0" transform="translate(987.2,1414.37) scale(1,1.04)" font-size="34" text-anchor="end" font-weight="normal" font-style="normal" font-family="'Liberation Sans', Arial, sans-serif" fill="#000" >60</text>
<text x="0" y="0" transform="translate(986.3,1479.87) scale(1,1.04)" font-size="34" text-anchor="end" font-weight="normal" font-style="normal" font-family="'Liberation Sans', Arial, sans-serif" fill="#000" >50</text>
<text x="0" y="0" transform="translate(985.6,1544.57) scale(1,1.04)" font-size="34" text-anchor="end" font-weight="normal" font-style="normal" font-family="'Liberation Sans', Arial, sans-serif" fill="#000" >40</text>
<text x="0" y="0" transform="translate(985,1608.97) scale(1,1.04)" font-size="34" text-anchor="end" font-weight="normal" font-style="normal" font-family="'Liberation Sans', Arial, sans-serif" fill="#000" >30</text>
<text x="0" y="0" transform="translate(984.3,1674.97) scale(1,1.04)" font-size="34" text-anchor="end" font-weight="normal" font-style="normal" font-family="'Liberation Sans', Arial, sans-serif" fill="#000" >20</text>
<text x="0" y="0" transform="translate(982.6,1739.97) scale(1,1.04)" font-size="34" text-anchor="end" font-weight="normal" font-style="normal" font-family="'Liberation Sans', Arial, sans-serif" fill="#000" >10</text>
<text x="0" y="0" transform="translate(982,1808.77) scale(1,1.04)" font-size="34" text-anchor="end" font-weight="normal" font-style="normal" font-family="'Liberation Sans', Arial, sans-serif" fill="#000" >0</text>
<text x="0" y="0" transform="translate(999,1846.97) scale(1,1.04)" font-size="34" text-anchor="middle" font-weight="normal" font-style="normal" font-family="'Liberation Sans', Arial, sans-serif" fill="#000" >0</text>
<text x="0" y="0" transform="translate(1177,1846.97) scale(1,1.04)" font-size="34" text-anchor="middle" font-weight="normal" font-style="normal" font-family="'Liberation Sans', Arial, sans-serif" fill="#000" >5</text>
<text x="0" y="0" transform="translate(1369.4,1846.97) scale(1,1.04)" font-size="34" text-anchor="middle" font-weight="normal" font-style="normal" font-family="'Liberation Sans', Arial, sans-serif" fill="#000" >10</text>
<text x="0" y="0" transform="translate(1559.3,1846.97) scale(1,1.04)" font-size="34" text-anchor="middle" font-weight="normal" font-style="normal" font-family="'Liberation Sans', Arial, sans-serif" fill="#000" >15</text>
<text x="0" y="0" transform="translate(1721.6,1846.97) scale(1,1.04)" font-size="34" text-anchor="middle" font-weight="normal" font-style="normal" font-family="'Liberation Sans', Arial, sans-serif" fill="#000" >20</text>
<text x="0" y="0" transform="translate(1364.8,1899) scale(1,1.04)" font-size="33.5" text-anchor="middle" font-weight="normal" font-style="normal" font-family="'Liberation Sans', Arial, sans-serif" fill="#000" >Time [s]</text>
<text x="0" y="0" transform="translate(920.3,1675.5) rotate(-90)" font-size="52" text-anchor="start" font-weight="bold" font-style="italic" font-family="'Liberation Serif', 'DejaVu Serif', serif" fill="#000" >Y</text>
<text x="0" y="0" transform="translate(927.9,1645.5) rotate(-90)" font-size="36" text-anchor="start" font-weight="normal" font-style="italic" font-family="'Liberation Serif', 'DejaVu Serif', serif" fill="#000" >T</text>
<text x="0" y="0" transform="translate(912,1598.5) rotate(-90) scale(1,1.04)" font-size="33" text-anchor="start" font-weight="normal" font-style="normal" font-family="'Liberation Sans', Arial, sans-serif" fill="#000" >[mm]</text>
<rect x="205.5" y="601.15" width="37.5" height="15.7" fill="url(#tubeg)" stroke="none" stroke-width="0" />
<rect x="205.5" y="601.15" width="13.12" height="15.7" fill="url(#tubeh)" stroke="none" stroke-width="0" />
<rect x="243" y="604.6" width="349.9" height="9.4" fill="#1f74bd" stroke="none" stroke-width="0" />
<rect x="461" y="589.4" width="336.3" height="9.4" fill="#1f74bd" stroke="none" stroke-width="0" />
<polygon points="461,598.5 549,598.5 592.9,604.9 505.6,604.9" fill="#1f74bd" />
<polygon points="298.4,559.3 692.6,559.3 692.6,590.3 621.3,590.3 621.3,578.1 368.8,578.1 368.8,605.6 298.4,605.6" fill="none" stroke="#1a1a1a" stroke-width="2.6" stroke-linejoin="miter"/>
<circle cx="461.3" cy="593.8" r="8.3" fill="#e8008a" />
<circle cx="592.9" cy="609.3" r="8.3" fill="#7b3f99" />
<path d="M266,565.2 Q331,536 397.4,569.9" fill="none" stroke="#f07878" stroke-width="1.6"/>
<path d="M187.4,608.6 Q203,601 226.1,609" fill="none" stroke="#f07878" stroke-width="1.6"/>
<text x="0" y="0" transform="translate(204.2,582.8) scale(1,1.04)" font-size="35" text-anchor="start" font-weight="normal" font-style="normal" font-family="'Liberation Sans', Arial, sans-serif" fill="#000" >TO<tspan font-size="35" font-weight="bold" dx="1.2" dy="-1.08">₁</tspan></text>
<text x="0" y="0" transform="translate(102.5,615.5) scale(1,1.04)" font-size="27" text-anchor="start" font-weight="normal" font-style="normal" font-family="'Liberation Sans', Arial, sans-serif" fill="#000" >Tubing</text>
<line x1="368.6" y1="629" x2="463.2" y2="629" stroke="#1a1a1a" stroke-width="2.4" />
<line x1="368.6" y1="619.5" x2="368.6" y2="638.5" stroke="#1a1a1a" stroke-width="2.4" />
<line x1="463.2" y1="619.5" x2="463.2" y2="638.5" stroke="#1a1a1a" stroke-width="2.4" />
<text x="477.9" y="646.5" font-size="48" text-anchor="start" font-weight="normal" font-style="italic" font-family="'Liberation Serif', 'DejaVu Serif', serif" fill="#000" >p</text>
<text x="503.9" y="653.2" font-size="33.6" text-anchor="start" font-weight="normal" font-style="normal" font-family="'Liberation Serif', 'DejaVu Serif', serif" fill="#000" >1</text>
<rect x="1078.3" y="594.15" width="37.5" height="15.7" fill="url(#tubeg)" stroke="none" stroke-width="0" />
<rect x="1078.3" y="594.15" width="13.12" height="15.7" fill="url(#tubeh)" stroke="none" stroke-width="0" />
<rect x="1115.8" y="597.6" width="349.9" height="9.4" fill="#1f74bd" stroke="none" stroke-width="0" />
<rect x="1333.8" y="582.4" width="336.3" height="9.4" fill="#1f74bd" stroke="none" stroke-width="0" />
<polygon points="1333.8,591.5 1421.8,591.5 1465.7,597.9 1378.4,597.9" fill="#1f74bd" />
<polygon points="1171.2,552.3 1565.4,552.3 1565.4,583.3 1494.1,583.3 1494.1,571.1 1241.6,571.1 1241.6,598.6 1171.2,598.6" fill="none" stroke="#1a1a1a" stroke-width="2.6" stroke-linejoin="miter"/>
<circle cx="1334.1" cy="586.8" r="8.3" fill="#e8008a" />
<circle cx="1465.7" cy="602.3" r="8.3" fill="#7b3f99" />
<path d="M1138.8,558.2 Q1203.8,529 1270.2,562.9" fill="none" stroke="#f07878" stroke-width="1.6"/>
<path d="M1060.2,601.6 Q1075.8,594 1098.9,602" fill="none" stroke="#f07878" stroke-width="1.6"/>
<text x="0" y="0" transform="translate(1077.7,575.1) scale(1,1.04)" font-size="35" text-anchor="start" font-weight="normal" font-style="normal" font-family="'Liberation Sans', Arial, sans-serif" fill="#000" >TO<tspan font-size="35" font-weight="bold" dx="1.2" dy="-1.08">₁</tspan></text>
<text x="0" y="0" transform="translate(967.8,607.5) scale(1,1.04)" font-size="27" text-anchor="start" font-weight="normal" font-style="normal" font-family="'Liberation Sans', Arial, sans-serif" fill="#000" >Tubing</text>
<line x1="1333.9" y1="625.4" x2="1464.3" y2="625.4" stroke="#1a1a1a" stroke-width="2.4" />
<line x1="1333.9" y1="616.4" x2="1333.9" y2="634.9" stroke="#1a1a1a" stroke-width="2.4" />
<line x1="1464.3" y1="616.4" x2="1464.3" y2="634.9" stroke="#1a1a1a" stroke-width="2.4" />
<text x="1480.7" y="636.3" font-size="45" text-anchor="start" font-weight="normal" font-style="italic" font-family="'Liberation Serif', 'DejaVu Serif', serif" fill="#000" >f</text>
<text x="1500.6" y="647.8" font-size="32.7" text-anchor="start" font-weight="normal" font-style="normal" font-family="'Liberation Serif', 'DejaVu Serif', serif" fill="#000" >1</text>
<text x="1507.7" y="627.3" font-size="34.6" text-anchor="start" font-weight="normal" font-style="normal" font-family="'Liberation Serif', 'DejaVu Serif', serif" fill="#000" >*</text>
<rect x="199" y="1283.35" width="37.7" height="15.7" fill="url(#tubeg)" stroke="none" stroke-width="0" />
<rect x="199" y="1283.35" width="13.19" height="15.7" fill="url(#tubeh)" stroke="none" stroke-width="0" />
<rect x="236.7" y="1286.5" width="349.9" height="9.4" fill="#1f74bd" stroke="none" stroke-width="0" />
<rect x="455" y="1271.8" width="336.5" height="9.4" fill="#1f74bd" stroke="none" stroke-width="0" />
<polygon points="455,1280.9 543.1,1280.9 586.6,1286.8 498.5,1286.8" fill="#1f74bd" />
<polygon points="292.4,1241.5 686.2,1241.5 686.2,1272.6 615.2,1272.6 615.2,1259.3 362.7,1259.3 362.7,1287.5 292.4,1287.5" fill="none" stroke="#1a1a1a" stroke-width="2.6" stroke-linejoin="miter"/>
<polygon points="292.4,1328.5 686.2,1328.5 686.2,1282.7 615.2,1282.7 615.2,1310.9 362.7,1310.9 362.7,1298.7 292.4,1298.7" fill="none" stroke="#1a1a1a" stroke-width="2.6" stroke-linejoin="miter"/>
<circle cx="455" cy="1275.8" r="8.3" fill="#e8008a" />
<circle cx="586.6" cy="1291.3" r="8.3" fill="#7b3f99" />
<line x1="362.7" y1="1312" x2="362.7" y2="1346" stroke="#999" stroke-width="1" stroke-dasharray="3,2"/>
<line x1="586.6" y1="1300" x2="586.6" y2="1346" stroke="#999" stroke-width="1" stroke-dasharray="3,2"/>
<path d="M260,1246.6 Q325,1215 391.3,1251.9" fill="none" stroke="#f07878" stroke-width="1.6"/>
<path d="M267.4,1339 Q305,1336 331.6,1319.2" fill="none" stroke="#f07878" stroke-width="1.6"/>
<path d="M173.2,1289.3 Q192,1284 211.3,1289.6" fill="none" stroke="#f07878" stroke-width="1.6"/>
<text x="0" y="0" transform="translate(198.3,1264.8) scale(1,1.04)" font-size="35" text-anchor="start" font-weight="normal" font-style="normal" font-family="'Liberation Sans', Arial, sans-serif" fill="#000" >TO<tspan font-size="35" font-weight="bold" dx="1.2" dy="-1.08">₁</tspan></text>
<text x="0" y="0" transform="translate(87.8,1296.5) scale(1,1.04)" font-size="27" text-anchor="start" font-weight="normal" font-style="normal" font-family="'Liberation Sans', Arial, sans-serif" fill="#000" >Tubing</text>
<text x="0" y="0" transform="translate(199.3,1346.8) scale(1,1.04)" font-size="35" text-anchor="start" font-weight="normal" font-style="normal" font-family="'Liberation Sans', Arial, sans-serif" fill="#000" >HC<tspan font-size="35" font-weight="bold" dx="1.2" dy="-1.08">₂</tspan></text>
<line x1="362.7" y1="1355.2" x2="585.5" y2="1355.2" stroke="#1a1a1a" stroke-width="2.4" />
<line x1="362.7" y1="1346.2" x2="362.7" y2="1364.6" stroke="#1a1a1a" stroke-width="2.4" />
<line x1="585.5" y1="1346.2" x2="585.5" y2="1364.6" stroke="#1a1a1a" stroke-width="2.4" />
<text x="624" y="1370.8" font-size="51.8" text-anchor="start" font-weight="normal" font-style="italic" font-family="'Liberation Serif', 'DejaVu Serif', serif" fill="#000" >p</text>
<text x="650" y="1386.4" font-size="38" text-anchor="start" font-weight="normal" font-style="normal" font-family="'Liberation Serif', 'DejaVu Serif', serif" fill="#000" >1</text>
<line x1="653" y1="1339" x2="676.6" y2="1339" stroke="#1a1a1a" stroke-width="1.6" />
<rect x="1084.1" y="1280.75" width="37.7" height="15.7" fill="url(#tubeg)" stroke="none" stroke-width="0" />
<rect x="1084.1" y="1280.75" width="13.2" height="15.7" fill="url(#tubeh)" stroke="none" stroke-width="0" />
<rect x="1121.8" y="1283.9" width="349.9" height="9.4" fill="#1f74bd" stroke="none" stroke-width="0" />
<rect x="1340.1" y="1269.2" width="336.5" height="9.4" fill="#1f74bd" stroke="none" stroke-width="0" />
<polygon points="1340.1,1278.3 1428.2,1278.3 1471.7,1284.2 1383.6,1284.2" fill="#1f74bd" />
<polygon points="1177.5,1238.9 1571.3,1238.9 1571.3,1270 1500.3,1270 1500.3,1256.7 1247.8,1256.7 1247.8,1284.9 1177.5,1284.9" fill="none" stroke="#1a1a1a" stroke-width="2.6" stroke-linejoin="miter"/>
<polygon points="1177.5,1325.9 1571.3,1325.9 1571.3,1280.1 1500.3,1280.1 1500.3,1308.3 1247.8,1308.3 1247.8,1296.1 1177.5,1296.1" fill="none" stroke="#1a1a1a" stroke-width="2.6" stroke-linejoin="miter"/>
<circle cx="1340.1" cy="1273.2" r="8.3" fill="#e8008a" />
<circle cx="1471.7" cy="1288.7" r="8.3" fill="#7b3f99" />
<line x1="1247.8" y1="1309.4" x2="1247.8" y2="1343.4" stroke="#999" stroke-width="1" stroke-dasharray="3,2"/>
<line x1="1471.7" y1="1297.4" x2="1471.7" y2="1343.4" stroke="#999" stroke-width="1" stroke-dasharray="3,2"/>
<path d="M1146,1244.1 Q1180,1222 1216.3,1255.7" fill="none" stroke="#f07878" stroke-width="1.6"/>
<path d="M1153.2,1335.8 Q1195,1334 1226.4,1315.6" fill="none" stroke="#f07878" stroke-width="1.6"/>
<path d="M1056.4,1287.3 Q1075,1282 1094.5,1287.9" fill="none" stroke="#f07878" stroke-width="1.6"/>
<text x="0" y="0" transform="translate(1084,1262.1) scale(1,1.04)" font-size="35" text-anchor="start" font-weight="normal" font-style="normal" font-family="'Liberation Sans', Arial, sans-serif" fill="#000" >TO<tspan font-size="35" font-weight="bold" dx="1.2" dy="-1.08">₁</tspan></text>
<text x="0" y="0" transform="translate(970.5,1294.3) scale(1,1.04)" font-size="27" text-anchor="start" font-weight="normal" font-style="normal" font-family="'Liberation Sans', Arial, sans-serif" fill="#000" >Tubing</text>
<text x="0" y="0" transform="translate(1084.6,1344) scale(1,1.04)" font-size="35" text-anchor="start" font-weight="normal" font-style="normal" font-family="'Liberation Sans', Arial, sans-serif" fill="#000" >HC<tspan font-size="35" font-weight="bold" dx="1.2" dy="-1.08">₂</tspan></text>
<line x1="1248" y1="1352.7" x2="1470.9" y2="1352.7" stroke="#1a1a1a" stroke-width="2.4" />
<line x1="1248" y1="1343.8" x2="1248" y2="1362.4" stroke="#1a1a1a" stroke-width="2.4" />
<line x1="1470.9" y1="1343.8" x2="1470.9" y2="1362.4" stroke="#1a1a1a" stroke-width="2.4" />
<text x="1486.5" y="1372.5" font-size="51" text-anchor="start" font-weight="normal" font-style="italic" font-family="'Liberation Serif', 'DejaVu Serif', serif" fill="#000" >p</text>
<text x="1512.5" y="1387.6" font-size="38" text-anchor="start" font-weight="normal" font-style="normal" font-family="'Liberation Serif', 'DejaVu Serif', serif" fill="#000" >1</text>
<line x1="1515.5" y1="1341.8" x2="1538.4" y2="1341.8" stroke="#1a1a1a" stroke-width="1.6" />
<g>
<rect x="1035" y="365.5" width="12.5" height="4" fill="url(#tubeg)" stroke="none" stroke-width="0" />
<ellipse cx="1127.5" cy="367.3" rx="80" ry="16.2" transform="rotate(0 1127.5 367.3)" fill="#000" stroke="#111" stroke-width="5.6"/>
<ellipse cx="1264.5" cy="307.5" rx="83" ry="14.5" transform="rotate(-47.5 1264.5 307.5)" fill="#000" stroke="#111" stroke-width="5.6"/>
<path d="M1165.06,381.6 C1196.38,378.23 1214.17,373.03 1238.4,352.89 L1213,366 Z" fill="#000" stroke="#111" stroke-width="5.6" stroke-linejoin="round"/>
<ellipse cx="1127.5" cy="367.3" rx="80" ry="16.2" transform="rotate(0 1127.5 367.3)" fill="url(#ellg)"/>
<ellipse cx="1264.5" cy="307.5" rx="83" ry="14.5" transform="rotate(-47.5 1264.5 307.5)" fill="url(#ellg)"/>
<path d="M1165.06,381.6 C1196.38,378.23 1214.17,373.03 1238.4,352.89 L1213,366 Z" fill="url(#ellg)"/>
<line x1="1050" y1="367.3" x2="1210" y2="367.3" stroke="#3a4a5a" stroke-width="1" stroke-dasharray="4,3"/>
<line x1="1222" y1="367.3" x2="1338" y2="367.3" stroke="#999" stroke-width="1.2" stroke-dasharray="4,3"/>
<line x1="1211" y1="366" x2="1316" y2="250" stroke="#3a4a5a" stroke-width="1" stroke-dasharray="4,3"/>
<polygon points="1095,340.8 1128,340.8 1237,298.6 1259.9,277.6 1270,288.5 1243.4,312.4 1239.7,307.5 1131.7,349.9 1131.7,357.2 1095,357.2" fill="#fff" stroke="#1a1a1a" stroke-width="2.4" stroke-linejoin="miter"/>
<circle cx="1236.6" cy="338.6" r="8.2" fill="#e8008a" />
<circle cx="1211" cy="364.6" r="8.2" fill="#7b3f99" />
<path d="M1250.7,323.3 A62 62 0 0 1 1276.4,366.4" fill="none" stroke="#333" stroke-width="1"/>
<text x="1287.6" y="352.2" font-size="50.5" text-anchor="start" font-weight="normal" font-style="italic" font-family="'Liberation Serif', 'DejaVu Serif', serif" fill="#000" >θ</text>
<text x="1312.8" y="361.8" font-size="44" text-anchor="start" font-weight="normal" font-style="normal" font-family="'Liberation Serif', 'DejaVu Serif', serif" fill="#000" >1</text>
</g>
<g>
<rect x="1320.7" y="1551.9" width="17.5" height="4" fill="url(#tubeg)" stroke="none" stroke-width="0" />
<ellipse cx="1433" cy="1553.9" rx="95" ry="18.4" transform="rotate(0 1433 1553.9)" fill="#000" stroke="#111" stroke-width="5.6"/>
<ellipse cx="1589.5" cy="1485.5" rx="96" ry="17.5" transform="rotate(-47.8 1589.5 1485.5)" fill="#000" stroke="#111" stroke-width="5.6"/>
<path d="M1477.6,1570.15 C1512.72,1566.53 1532.85,1561.1 1560.01,1538.55 L1528,1553 Z" fill="#000" stroke="#111" stroke-width="5.6" stroke-linejoin="round"/>
<ellipse cx="1433" cy="1553.9" rx="95" ry="18.4" transform="rotate(0 1433 1553.9)" fill="url(#ellg)"/>
<ellipse cx="1589.5" cy="1485.5" rx="96" ry="17.5" transform="rotate(-47.8 1589.5 1485.5)" fill="url(#ellg)"/>
<path d="M1477.6,1570.15 C1512.72,1566.53 1532.85,1561.1 1560.01,1538.55 L1528,1553 Z" fill="url(#ellg)"/>
<polygon points="1392.8,1567.1 1435.2,1567.1 1435.2,1575.2 1530.2,1575.2 1590.9,1515.6 1586.3,1509.9 1614.9,1480.6 1627.5,1493.9 1534.8,1585 1392.8,1585" fill="#fff" stroke="#1a1a1a" stroke-width="2.4" stroke-linejoin="miter"/>
<line x1="1340" y1="1553.9" x2="1525" y2="1553.9" stroke="#3a4a5a" stroke-width="1" stroke-dasharray="4,3"/>
<line x1="1548" y1="1553.9" x2="1673" y2="1553.9" stroke="#999" stroke-width="1.2" stroke-dasharray="4,3"/>
<line x1="1650" y1="1430.9" x2="1673" y2="1430.9" stroke="#999" stroke-width="1.2" stroke-dasharray="4,3"/>
<polygon points="1392.8,1524.8 1430.6,1524.8 1555.4,1474.4 1584,1450.4 1594.8,1461.8 1564.6,1491.6 1559.5,1485.2 1434.1,1533.9 1435.2,1542 1392.8,1542" fill="#fff" stroke="#1a1a1a" stroke-width="2.4" stroke-linejoin="miter"/>
<circle cx="1637.4" cy="1430.9" r="8.6" fill="#ffff00" />
<circle cx="1556.6" cy="1522" r="8.3" fill="#e8008a" />
<circle cx="1526.1" cy="1551.1" r="8.3" fill="#7b3f99" />
<line x1="1682.5" y1="1430.9" x2="1682.5" y2="1468.7" stroke="#1a1a1a" stroke-width="2.6" />
<line x1="1682.5" y1="1524.8" x2="1682.5" y2="1553.9" stroke="#1a1a1a" stroke-width="2.6" />
<line x1="1673.3" y1="1430.9" x2="1691.6" y2="1430.9" stroke="#1a1a1a" stroke-width="2.6" />
<line x1="1673.3" y1="1553.9" x2="1691.6" y2="1553.9" stroke="#1a1a1a" stroke-width="2.6" />
<text x="1643.9" y="1511" font-size="54" text-anchor="start" font-weight="normal" font-style="italic" font-family="'Liberation Serif', 'DejaVu Serif', serif" fill="#000" >Y</text>
<text x="1674.4" y="1519.1" font-size="36.8" text-anchor="start" font-weight="normal" font-style="italic" font-family="'Liberation Serif', 'DejaVu Serif', serif" fill="#000" >T</text>
</g>
</svg>
</body></html>
